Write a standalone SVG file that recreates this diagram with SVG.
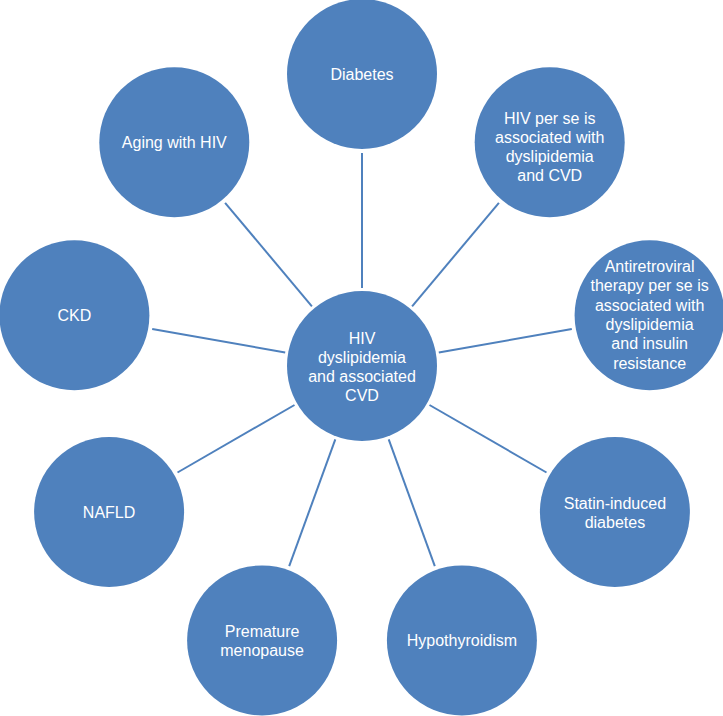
<svg xmlns="http://www.w3.org/2000/svg" width="723" height="716" viewBox="0 0 723 716">
<style>
.n{fill:#4f81bd}
.t{font-family:"Liberation Sans",Arial,sans-serif;font-size:16px;fill:#ffffff;text-anchor:middle}
.c line{stroke:#4f81bd;stroke-width:2}
</style>
<rect width="723" height="716" fill="#ffffff"/>
<g class="c" id="connectors">
<line x1="362" y1="288" x2="362" y2="153"/>
<line x1="412.1" y1="306.3" x2="498.9" y2="202.8"/>
<line x1="438.8" y1="352.5" x2="571.8" y2="329"/>
<line x1="429.5" y1="405" x2="546.5" y2="472.5"/>
<line x1="388.7" y1="439.3" x2="434.8" y2="566.2"/>
<line x1="335.3" y1="439.3" x2="289.2" y2="566.2"/>
<line x1="294.5" y1="405" x2="177.5" y2="472.5"/>
<line x1="285.2" y1="352.5" x2="152.2" y2="329"/>
<line x1="311.9" y1="306.3" x2="225.1" y2="202.8"/>
</g>
<g id="center">
<circle class="n" cx="362" cy="366" r="75"/>
<text class="t"><tspan x="362" y="343.5">HIV</tspan><tspan x="362" y="362.5">dyslipidemia</tspan><tspan x="362" y="381.5">and associated</tspan><tspan x="362" y="400.5">CVD</tspan></text>
</g>
<g id="diabetes">
<circle class="n" cx="362" cy="74" r="75"/>
<text class="t" x="362" y="80">Diabetes</text>
</g>
<g id="hiv-per-se">
<circle class="n" cx="549.7" cy="142.3" r="75"/>
<text class="t"><tspan x="549.7" y="124">HIV per se is</tspan><tspan x="549.7" y="143">associated with</tspan><tspan x="549.7" y="162">dyslipidemia</tspan><tspan x="549.7" y="181">and CVD</tspan></text>
</g>
<g id="antiretroviral">
<circle class="n" cx="649.6" cy="315.3" r="75"/>
<text class="t"><tspan x="649.6" y="271.8">Antiretroviral</tspan><tspan x="649.6" y="291.2">therapy per se is</tspan><tspan x="649.6" y="310.6">associated with</tspan><tspan x="649.6" y="330">dyslipidemia</tspan><tspan x="649.6" y="349.4">and insulin</tspan><tspan x="649.6" y="368.8">resistance</tspan></text>
</g>
<g id="statin">
<circle class="n" cx="614.9" cy="512" r="75"/>
<text class="t"><tspan x="614.9" y="508.5">Statin-induced</tspan><tspan x="614.9" y="527.5">diabetes</tspan></text>
</g>
<g id="hypothyroidism">
<circle class="n" cx="461.9" cy="640.4" r="75"/>
<text class="t" x="461.9" y="646.4">Hypothyroidism</text>
</g>
<g id="menopause">
<circle class="n" cx="262.1" cy="640.4" r="75"/>
<text class="t"><tspan x="262.1" y="636.9">Premature</tspan><tspan x="262.1" y="655.9">menopause</tspan></text>
</g>
<g id="nafld">
<circle class="n" cx="109.1" cy="512" r="75"/>
<text class="t" x="109.1" y="518">NAFLD</text>
</g>
<g id="ckd">
<circle class="n" cx="74.4" cy="315.3" r="75"/>
<text class="t" x="74.4" y="321.3">CKD</text>
</g>
<g id="aging">
<circle class="n" cx="174.3" cy="142.3" r="75"/>
<text class="t" x="174.3" y="148.3">Aging with HIV</text>
</g>
</svg>
